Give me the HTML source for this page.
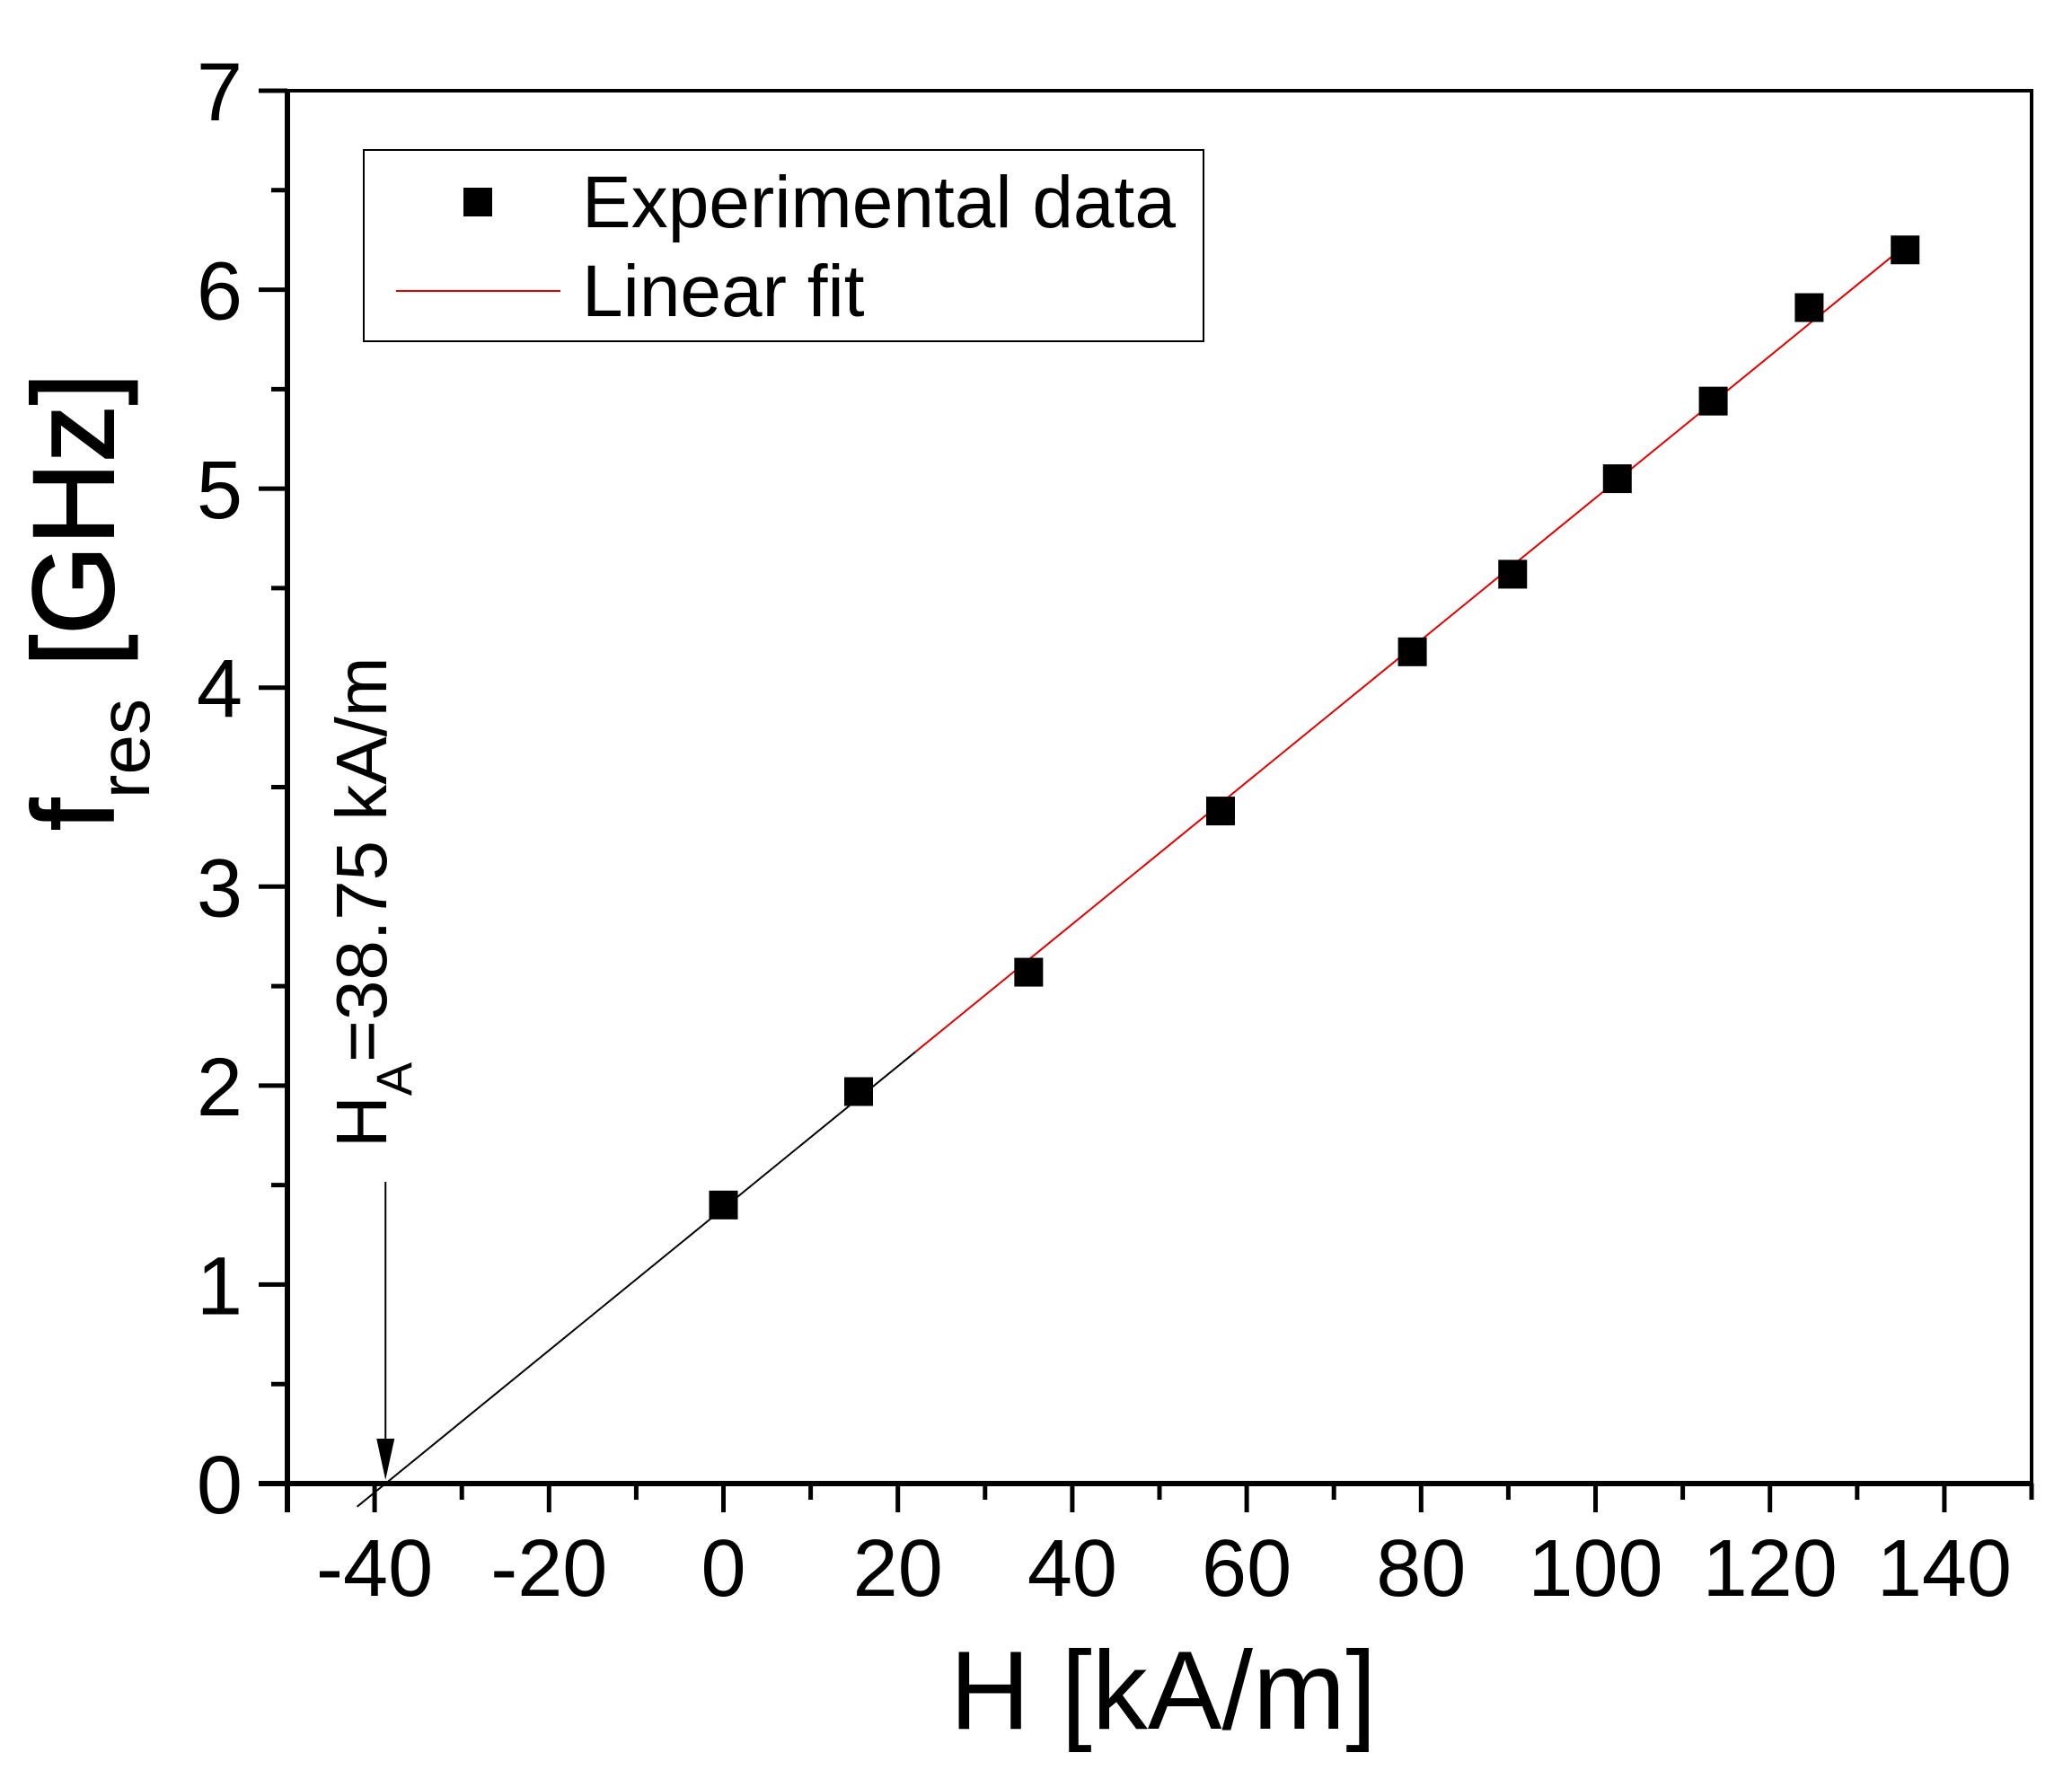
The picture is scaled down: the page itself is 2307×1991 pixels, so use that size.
<!DOCTYPE html>
<html><head><meta charset="utf-8"><style>
html,body{margin:0;padding:0;background:#fff;}
svg{display:block;font-family:"Liberation Sans",Arial,sans-serif;}
</style></head><body>
<svg id="chart" width="2307" height="1991" viewBox="0 0 2307 1991" xmlns="http://www.w3.org/2000/svg">
<rect x="0" y="0" width="2307" height="1991" fill="#fff"/>
<g id="grid"></g>
<g id="marks"></g>
<g id="legend">
  <rect x="405" y="167" width="935" height="213" fill="#fff" stroke="#000" stroke-width="2"/>
  <rect x="516" y="209" width="32" height="32" fill="#000"/>
  <text x="648" y="253" font-size="82">Experimental data</text>
  <line x1="441" y1="324" x2="624" y2="324" stroke="#e00000" stroke-width="2"/>
  <text x="648" y="352" font-size="82">Linear fit</text>
</g>
<text x="1295" y="1925" font-size="124" text-anchor="middle">H [kA/m]</text>
<g transform="translate(126,670) rotate(-90)">
  <text x="0" y="0" font-size="128" text-anchor="middle" stroke="#000" stroke-width="2">f<tspan font-size="80" dy="40" stroke-width="0">res</tspan><tspan dy="-40"> [GHz]</tspan></text>
</g>
<g transform="translate(430,1278) rotate(-90)">
  <text x="0" y="0" font-size="80">H<tspan font-size="56" dy="28">A</tspan><tspan dy="-28">=38.75 kA/m</tspan></text>
</g>
</svg>
<script>
const xTicks=[-40,-20,0,20,40,60,80,100,120,140];
const yTicks=[0,1,2,3,4,5,6,7];
const hValues=[0,15.5,35,57,79,90.5,102.5,113.5,124.5,135.5];
const fValues=[1.4,1.97,2.57,3.38,4.18,4.57,5.05,5.44,5.91,6.2];
const fitIntercept=-38.75;
const fitSlope=0.0357;
const xMin=-50,xMax=150,yMin=0,yMax=7;
const L=320,R=2262,T=101,B=1652;
const X=v=>L+(v-xMin)/(xMax-xMin)*(R-L);
const Y=v=>B-(v-yMin)/(yMax-yMin)*(B-T);
const NS='http://www.w3.org/2000/svg';
const svg=document.getElementById('chart');
const marks=document.getElementById('marks');
const grid=document.getElementById('grid');
function mk(tag,attrs,parent){const e=document.createElementNS(NS,tag);for(const k in attrs)e.setAttribute(k,attrs[k]);(parent||svg).appendChild(e);return e;}
let f=mk('rect',{x:L,y:T,width:R-L,height:B-T,fill:'none',stroke:'#000','stroke-width':4},grid);


let xa=mk('line',{x1:L-32,y1:B,x2:R,y2:B,stroke:'#000','stroke-width':6},grid);


let ya=mk('line',{x1:L,y1:T-2,x2:L,y2:B+32,stroke:'#000','stroke-width':6},grid);


for(let v=xMin;v<=xMax;v+=10){
  const major=xTicks.includes(v);
  let t=mk('line',{x1:X(v),y1:B,x2:X(v),y2:B+(major?32:18),stroke:'#000','stroke-width':5},grid);
  
  
}
xTicks.forEach(v=>{
  let t=mk('text',{x:X(v),y:B+125,'font-size':90,'text-anchor':'middle'},grid);
  t.textContent=v;
  
  
});
for(let v=yMin;v<=yMax;v+=0.5){
  const major=Number.isInteger(v);
  let t=mk('line',{x1:L-(major?32:18),y1:Y(v),x2:L,y2:Y(v),stroke:'#000','stroke-width':5},grid);
  
  
}
yTicks.forEach(v=>{
  let t=mk('text',{x:L-50,y:Y(v)+33,'font-size':92,'text-anchor':'end'},grid);
  t.textContent=v;
  
  
});
const fy=h=>fitSlope*(h-fitIntercept);
let bl=mk('line',{x1:X(-42),y1:Y(fy(-42)),x2:X(22),y2:Y(fy(22)),stroke:'#000','stroke-width':2},marks);


let rl=mk('line',{x1:X(22),y1:Y(fy(22)),x2:X(135.5),y2:Y(fy(135.5)),stroke:'#e00000','stroke-width':2},marks);


let ar=mk('line',{x1:X(fitIntercept),y1:1316,x2:X(fitIntercept),y2:Y(0)-30,stroke:'#000','stroke-width':2},marks);


let ah=mk('polygon',{points:`${X(fitIntercept)-10},${Y(0)-50} ${X(fitIntercept)+10},${Y(0)-50} ${X(fitIntercept)},${Y(0)-4}`,fill:'#000'},marks);


hValues.forEach((h,i)=>{
  let p=mk('rect',{x:X(h)-16,y:Y(fValues[i])-16,width:32,height:32,fill:'#000'},marks);
  
  
});
</script>
</body></html>
